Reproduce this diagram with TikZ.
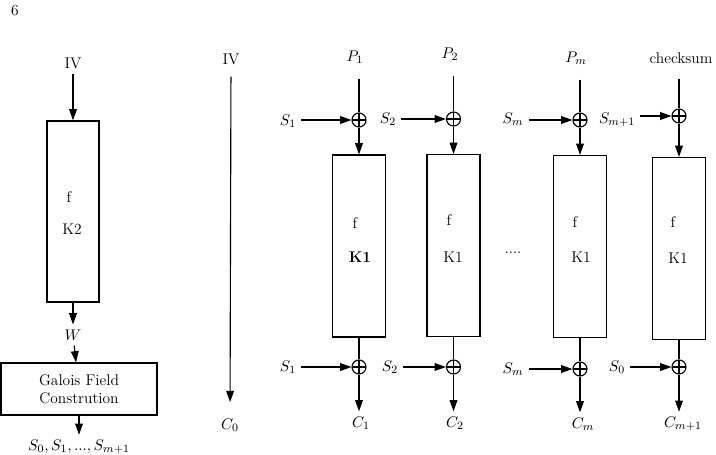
\documentclass[tikz,border=0pt]{standalone}
\usepackage{amsmath,amssymb}
\usepackage{tikz}
\usetikzlibrary{arrows.meta,positioning,calc}

\begin{document}
\begin{tikzpicture}[
  x=0.025cm, y=-0.025cm,
  font=\fontsize{11}{13}\selectfont,
  >={Triangle[length=8pt, width=5.5pt]},
  line width=0.8pt,
  every node/.style={align=center},
  blk/.style   = {draw, minimum width=1.325cm, minimum height=4.55cm, inner sep=0pt},
  gfnd/.style  = {draw, minimum width=3.9cm, minimum height=1.3cm},
  xorop/.style = {draw, circle, minimum size=0.35cm, inner sep=0pt,
                  path picture={\draw (path picture bounding box.north) -- (path picture bounding box.south)
                                      (path picture bounding box.west) -- (path picture bounding box.east);}}
]
\useasboundingbox (0,0) rectangle (716,454);

\node (six) at (15,11) {6};

% key generation column
\node (ivk) at (73,63) {IV};
\node[blk, minimum width=1.3cm, minimum height=4.525cm] (blkk) at (73,211.5) {};
\node (fk) at (69,197) {f};
\node (kk) at (72,229) {K2};
\node (w) at (73,335) {$W$};
\node[gfnd] (gf) at (79,389) {Galois Field\\Constrution};
\node (slist) at (79,447) {$S_0, S_1, ..., S_{m+1}$};

\draw[->] (ivk) -- (blkk);
\draw[->] (blkk) -- (w);
\draw[->] (w) -- (gf);
\draw[->] (gf) -- (slist);

% IV passed through
\node (ivm) at (231,59) {IV};
\node (czero) at (230,425) {$C_0$};
\draw[->, shorten <=5pt, shorten >=8pt] (ivm) -- (czero);

% block 1
\node (pone) at (355,57) {$P_1$};
\node[xorop] (xtone) at (359,120) {};
\node (stone) at (288,121) {$S_1$};
\node[blk] (bone) at (359,246) {};
\node (fone) at (355,223) {f};
\node (kone) at (360,257) {\textbf{K1}};
\node[xorop] (xbone) at (359,367) {};
\node (sbone) at (288,367) {$S_1$};
\node (cone) at (361,423) {$C_1$};

\draw[shorten <=7pt] (xtone |- pone.south) -- (xtone.north);
\draw[->] (stone.east |- xtone) -- (xtone);
\draw[->] (xtone) -- (bone);
\draw (bone) -- (xbone);
\draw[->] (sbone) -- (xbone);
\draw[->] (xbone) -- (xbone |- cone.north);

% block 2
\node (ptwo) at (450,54) {$P_2$};
\node[xorop] (xttwo) at (453.5,119) {};
\node (sttwo) at (388,119) {$S_2$};
\node[blk] (btwo) at (453.5,245.5) {};
\node (ftwo) at (449,220) {f};
\node (ktwo) at (453,257) {K1};
\node[xorop] (xbtwo) at (453.5,367) {};
\node (sbtwo) at (390,367) {$S_2$};
\node (ctwo) at (455,423) {$C_2$};

\draw[shorten <=7pt] (xttwo |- ptwo.south) -- (xttwo.north);
\draw[->] (sttwo) -- (xttwo);
\draw[->] (xttwo) -- (btwo);
\draw (btwo) -- (xbtwo);
\draw[->] (sbtwo) -- (xbtwo);
\draw[->] (xbtwo) -- (xbtwo |- ctwo.north);

\node (dots) at (513,253) {....};

% block m
\node (pm) at (576,58) {$P_m$};
\node[xorop] (xtm) at (580,120) {};
\node (stm) at (513,119) {$S_m$};
\node[blk] (bm) at (580,246.5) {};
\node (fm) at (575,222) {f};
\node (km) at (581,257) {K1};
\node[xorop] (xbm) at (580,369) {};
\node (sbm) at (513,369) {$S_m$};
\node (cm) at (583,424) {$C_m$};

\draw[shorten <=7pt] (xtm |- pm.south) -- (xtm.north);
\draw[->] (stm.east |- xtm) -- (xtm);
\draw[->] (xtm) -- (bm);
\draw (bm) -- (xbm);
\draw[->] (sbm.east |- xbm) -- (xbm);
\draw[->] (xbm) -- (xbm |- cm.north);

% checksum block
\node (chk) at (681,58) {checksum};
\node[xorop] (xtl) at (679,116) {};
\node (stl) at (617,120) {$S_{m+1}$};
\node[blk] (bl) at (679,248.5) {};
\node (fl) at (673,222) {f};
\node (kl) at (678,258) {K1};
\node[xorop] (xbl) at (679,367) {};
\node (sbl) at (617,367) {$S_0$};
\node (cl) at (683,424) {$C_{m+1}$};

\draw[shorten <=7pt] (xtl |- chk.south) -- (xtl.north);
\draw[->] (stl.east |- xtl) -- (xtl);
\draw[->] (xtl) -- (bl);
\draw (bl) -- (xbl);
\draw[->] (sbl) -- (xbl);
\draw[->] (xbl) -- (xbl |- cl.north);
\end{tikzpicture}
\end{document}
